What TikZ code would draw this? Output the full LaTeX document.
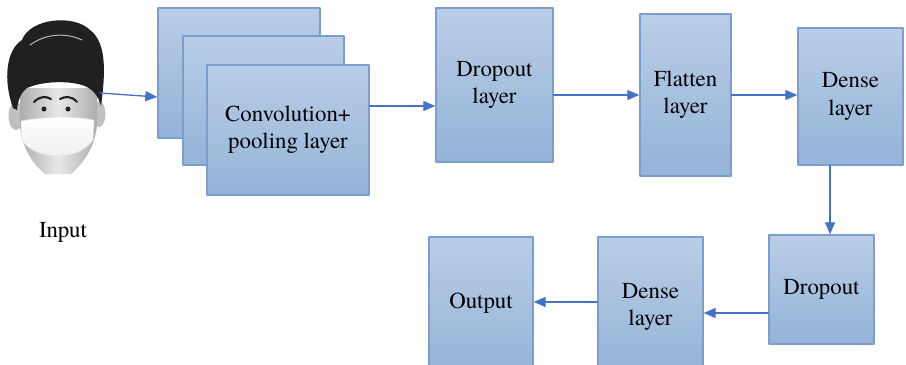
\documentclass[tikz,border=0pt]{standalone}
\usepackage{fontspec}
\setmainfont{texgyretermes}[Extension=.otf, UprightFont=*-regular, BoldFont=*-bold]
\usetikzlibrary{arrows.meta}
\definecolor{boxtop}{RGB}{185,205,230}
\definecolor{boxbot}{RGB}{148,179,216}
\definecolor{boxline}{RGB}{122,158,206}
\definecolor{linkblue}{RGB}{68,114,196}
\definecolor{hair}{RGB}{32,32,32}
\begin{document}
\begin{tikzpicture}[x=0.02cm, y=-0.02cm, font=\fontsize{13}{15.5}\selectfont, line join=round, line cap=round,
    layer/.style={draw=boxline, line width=0.8pt, top color=boxtop, bottom color=boxbot, align=center, inner sep=0pt},
    link/.style={draw=linkblue, line width=0.75pt, -{Triangle[length=0.24cm,width=0.2cm]}}]
    \clip (0,0) rectangle (906,365);
    %\draw[gray!30] (0,0) grid[step=50] (906,365);

    % masked face
    \fill[gray!50] (16,116) ellipse [x radius=0.15cm, y radius=0.28cm];
    \fill[gray!50] (99,114) ellipse [x radius=0.13cm, y radius=0.26cm];
    \shade[left color=gray!65, right color=gray!65, middle color=gray!18]
        (20,88) -- (20,125) .. controls (22,150) and (35,166) .. (45,174) -- (71,174)
        .. controls (82,165) and (95,148) .. (97,125) -- (97,88) -- cycle;
    \fill[hair] (13,108) .. controls (3,80) and (6,50) .. (22,40) .. controls (30,18) and (74,14) .. (90,30)
        .. controls (106,42) and (106,70) .. (101,106) .. controls (98,95) and (92,88) .. (82,85)
        .. controls (65,80) and (40,82) .. (27,88) .. controls (21,92) and (18,100) .. (17,110) -- cycle;
    \draw[gray!60, line width=0.6pt] (30,45) .. controls (45,34) and (65,32) .. (82,40);
    \draw[hair, line width=1.2pt] (34,102) .. controls (40,96) and (46,96) .. (51,99);
    \draw[hair, line width=1.2pt] (60,99) .. controls (65,96) and (72,96) .. (77,102);
    \fill[hair] (44,109) circle [radius=0.05cm] (68,109) circle [radius=0.05cm];
    \shade[top color=white, bottom color=gray!12, draw=gray!25, line width=0.3pt]
        (21,121) .. controls (50,116) and (70,116) .. (94,120) -- (93,140)
        .. controls (85,152) and (70,156) .. (57,156) .. controls (42,156) and (28,150) .. (22,140) -- cycle;
    \coordinate (face) at (100,93);
    \node (input) at (63,232) {Input};

    % convolution stack
    \node[layer, minimum width=3.24cm, minimum height=2.6cm] (back) at (239,73) {};
    \node[layer, minimum width=3.22cm, minimum height=2.58cm] (mid) at (263.5,100.5) {};
    \node[layer, minimum width=3.24cm, minimum height=2.6cm] (conv) at (288,130) {Convolution+\\pooling layer};

    \node[layer, minimum width=2.34cm, minimum height=3.08cm] (drop1) at (494.5,85) {Dropout\\layer};
    \node[layer, minimum width=1.82cm, minimum height=3.24cm] (flat) at (685.5,95) {Flatten\\layer};
    \node[layer, minimum width=2.1cm, minimum height=2.74cm] (dense1) at (850.5,96.5) {Dense\\layer};
    \node[layer, minimum width=2.1cm, minimum height=2.18cm] (drop2) at (821.5,289.5) {Dropout};
    \node[layer, minimum width=2.1cm, minimum height=2.8cm] (dense2) at (650.5,307) {Dense\\layer};
    \node[layer, minimum width=2.08cm, minimum height=2.8cm] (output) at (481,307) {};
    \node at (481,303) {Output};

    \draw[link] (face) -- ([yshift=-0.48cm]back.west);
    \draw[link] ([yshift=0.48cm]conv.east) -- ([yshift=0.48cm]conv.east -| drop1.west);
    \draw[link] (drop1.east |- flat.west) -- (flat.west);
    \draw[link] (flat.east) -- (flat.east -| dense1.west);
    \draw[link] ([xshift=-0.41cm]dense1.south) -- ([xshift=-0.41cm]dense1.south |- drop2.north);
    \draw[link] ([yshift=-0.47cm]drop2.west) -- ([yshift=-0.47cm]drop2.west -| dense2.east);
    \draw[link] ([yshift=0.1cm]dense2.west) -- ([yshift=0.1cm]dense2.west -| output.east);
\end{tikzpicture}
\end{document}
